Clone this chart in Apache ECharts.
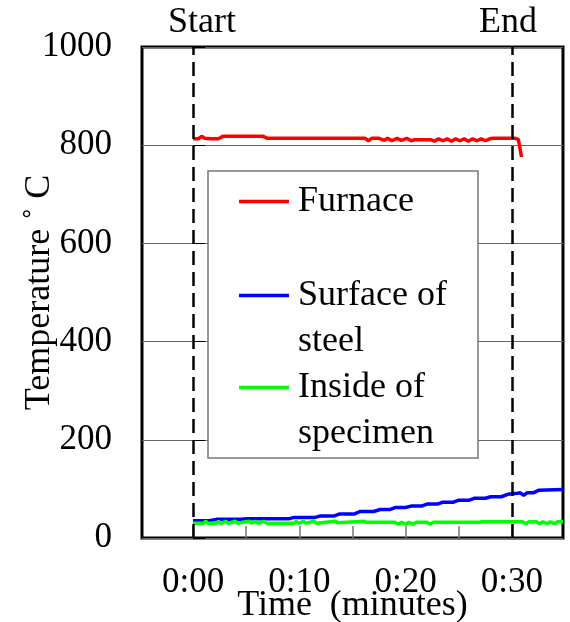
<!DOCTYPE html>
<html>
<head>
<meta charset="utf-8">
<script src="https://cdn.jsdelivr.net/npm/echarts@6/dist/echarts.min.js"></script>
<style>
  html, body { margin: 0; padding: 0; background: #fff; }
  #chart { width: 570px; height: 622px; }
</style>
</head>
<body>
<div id="chart"></div>
<script>
// Furnace temperature log (minutes, °C)
const furnaceTime = [0, 0.5, 0.8, 1.1, 1.6, 2.4, 2.8, 6.6, 7.0, 10, 14, 16.2, 16.5, 16.8, 17.5, 18.0, 18.3, 18.7, 19.2, 19.6, 20.1, 20.5, 20.8, 22.4, 22.7, 23.1, 23.5, 23.9, 24.3, 24.7, 25.1, 25.5, 25.9, 26.3, 26.7, 27.1, 27.5, 27.9, 28.2, 30.3, 30.6, 30.9];
const furnaceTemp = [813, 813, 818, 814, 813, 813, 818, 818, 814, 814, 814, 814, 809, 814, 814, 810, 814, 809, 814, 810, 814, 809, 811, 811, 808, 813, 809, 813, 808, 813, 809, 813, 808, 813, 809, 813, 809, 813, 814, 814, 812, 776];

// Thermocouple on the steel surface
const surfaceTime = [0, 1.5, 2.2, 4.5, 5.0, 9.0, 9.5, 11.5, 12.0, 13.3, 13.8, 15.2, 15.7, 17.0, 17.6, 18.5, 19.0, 20.0, 20.5, 21.5, 22.0, 23.0, 23.5, 24.5, 25.0, 26.0, 26.5, 27.5, 28.0, 29.0, 29.6, 30.5, 30.8, 31.1, 31.4, 32.0, 32.5, 34.8];
const surfaceTemp = [35, 35, 38, 38, 39, 39, 42, 42, 45, 45, 49, 49, 54, 54, 58, 58, 62, 62, 65, 65, 69, 69, 73, 73, 77, 77, 81, 81, 84, 84, 89, 91, 92, 87, 92, 92, 97, 99];

// Thermocouple inside the specimen
const insideTime = [0, 1.0, 1.2, 1.4, 2.2, 2.4, 2.6, 3.1, 3.3, 4.0, 4.2, 5.3, 5.5, 5.9, 6.1, 6.7, 6.9, 9.5, 9.7, 9.9, 10.4, 10.6, 11.4, 11.6, 13.4, 13.6, 16.1, 16.3, 19.0, 19.3, 19.6, 20.0, 20.3, 20.7, 21.0, 22.0, 22.3, 22.6, 27.0, 27.2, 30.0, 31.0, 31.3, 31.6, 32.3, 32.6, 32.9, 33.3, 33.6, 34.0, 34.3, 34.8];
const insideTemp = [30, 30, 34, 30, 30, 34, 30, 34, 30, 34, 30, 34, 30, 34, 30, 34, 30, 30, 34, 30, 34, 30, 34, 30, 34, 31, 34, 32, 32, 28, 32, 28, 32, 28, 32, 32, 28, 32, 32, 33, 33, 33, 29, 33, 33, 29, 33, 29, 33, 29, 33, 33];

const tempTicks = [0, 200, 400, 600, 800, 1000];
const timeTicks = [0, 5, 10, 15, 20, 25, 30];
const timeLabels = [0, 10, 20, 30];
const phaseMarks = [{ t: 0, name: 'Start' }, { t: 30, name: 'End' }];

const FONT = "'Liberation Serif', 'Times New Roman', serif";

function pairs(ts, vs) { return ts.map((t, i) => [t, vs[i]]); }

const chart = echarts.init(document.getElementById('chart'), null, { renderer: 'canvas' });

const legendBase = {
  orient: 'vertical',
  left: 239,
  padding: 0,
  itemWidth: 50,
  itemHeight: 3.5,
  icon: 'rect',
  selectedMode: false,
  z: 10,
  textStyle: { fontFamily: FONT, fontSize: 36, color: '#000', lineHeight: 46, padding: [5, 0, 0, 4] }
};

chart.setOption({
  animation: false,
  backgroundColor: '#fff',
  grid: {
    left: 142, right: 7, top: 47, bottom: 84,
    containLabel: false,
    outerBoundsMode: 'none',
    show: true, borderColor: '#000', borderWidth: 3, backgroundColor: 'transparent'
  },
  xAxis: {
    type: 'value',
    min: -4.8, max: 34.8,
    name: 'Time  (minutes)',
    nameLocation: 'middle',
    nameGap: 50,
    nameMoveOverlap: false,
    nameTextStyle: { fontFamily: FONT, fontSize: 36, color: '#000' },
    axisLine: { show: false },
    axisTick: { show: true, inside: true, length: 12, customValues: timeTicks, lineStyle: { color: '#777', width: 1.5 } },
    axisLabel: {
      customValues: timeLabels, margin: 27,
      fontFamily: FONT, fontSize: 35, color: '#000',
      formatter: v => '0:' + String(v).padStart(2, '0')
    },
    splitLine: { show: false }
  },
  yAxis: {
    type: 'value',
    min: 0, max: 1000, interval: 200,
    name: 'Temperature ˚ C',
    nameLocation: 'middle',
    nameRotate: 90,
    nameGap: 84,
    nameMoveOverlap: false,
    nameTextStyle: { fontFamily: FONT, fontSize: 36, color: '#000' },
    axisLine: { show: false },
    axisTick: { show: true, inside: true, length: 12, lineStyle: { color: '#000', width: 1 } },
    axisLabel: {
      margin: 30, fontFamily: FONT, fontSize: 35, color: '#000',
      customValues: tempTicks,
      formatter: v => String(v)
    },
    splitLine: { show: true, lineStyle: { color: '#666', width: 1 } }
  },
  legend: [
    Object.assign({}, legendBase, { data: ['Furnace'], top: 176 }),
    Object.assign({}, legendBase, {
      data: ['Surface of steel'], top: 224,
      formatter: () => ' \nSurface of\nsteel'
    }),
    Object.assign({}, legendBase, {
      data: ['Inside of specimen'], top: 316,
      formatter: () => ' \nInside of\nspecimen'
    })
  ],
  graphic: [{
    type: 'rect',
    z: 5,
    shape: { x: 208, y: 171, width: 270, height: 287 },
    style: { fill: '#fff', stroke: '#777', lineWidth: 1.5 }
  }],
  series: [
    {
      name: 'Furnace', type: 'line', symbol: 'none', z: 3,
      data: pairs(furnaceTime, furnaceTemp),
      lineStyle: { color: '#ff0000', width: 3.5 },
      itemStyle: { color: '#ff0000' },
      markLine: {
        silent: true, symbol: 'none', z: 4,
        lineStyle: { color: '#000', type: [14, 7], width: 2.5 },
        label: {
          position: 'end', distance: 6,
          fontFamily: FONT, fontSize: 36, color: '#000'
        },
        data: phaseMarks.map(p => ({
          xAxis: p.t,
          label: {
            formatter: p.name,
            padding: p.name === 'Start' ? [0, 0, 0, 18] : [0, 8, 0, 0]
          }
        }))
      }
    },
    {
      name: 'Surface of steel', type: 'line', symbol: 'none', z: 3,
      data: pairs(surfaceTime, surfaceTemp),
      lineStyle: { color: '#0000ff', width: 3.5 },
      itemStyle: { color: '#0000ff' }
    },
    {
      name: 'Inside of specimen', type: 'line', symbol: 'none', z: 3,
      data: pairs(insideTime, insideTemp),
      lineStyle: { color: '#00ff00', width: 3.5 },
      itemStyle: { color: '#00ff00' }
    }
  ]
});
</script>
</body>
</html>
